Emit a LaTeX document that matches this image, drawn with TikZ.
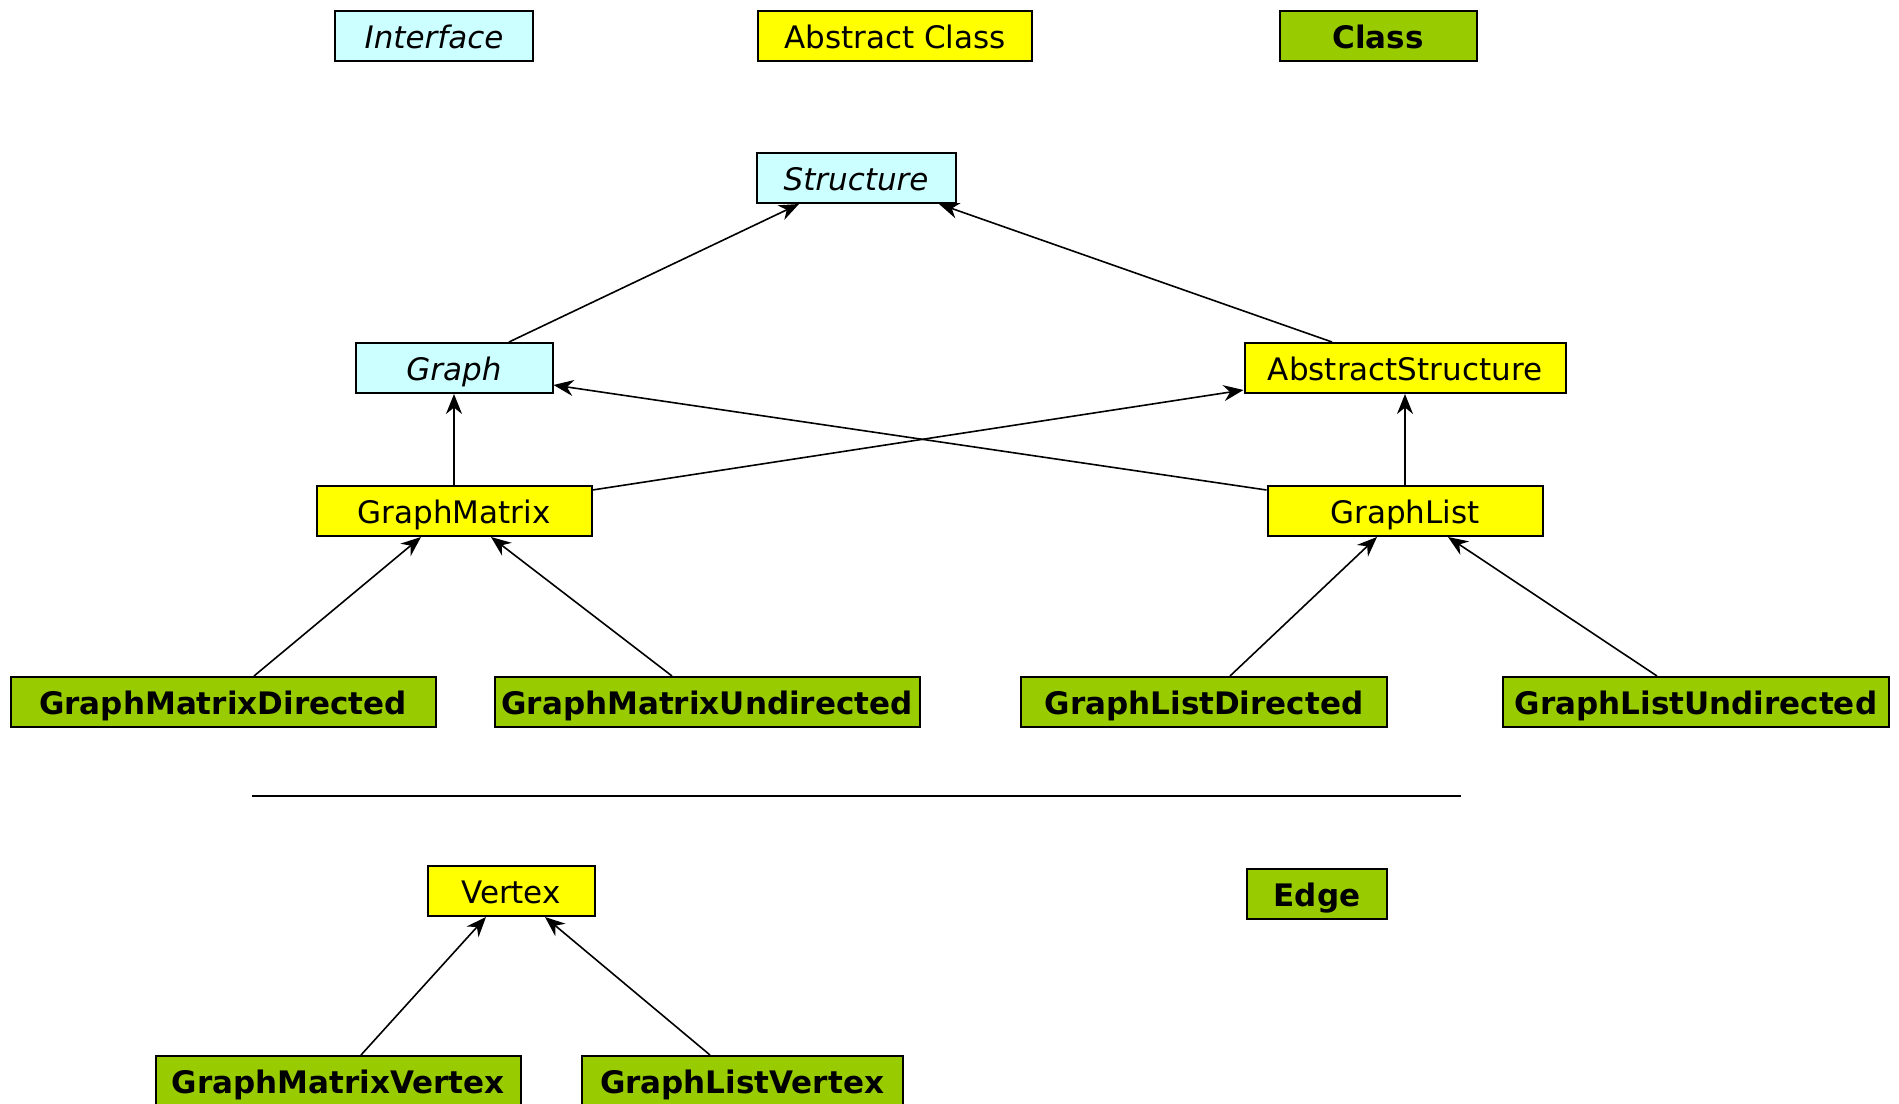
\documentclass[tikz,border=0pt]{standalone}
\usepackage{fontspec}
\setmainfont{DejaVu Sans}
\usepackage{tikz}
\usetikzlibrary{arrows.meta}
\usepackage{xcolor}
\definecolor{ifacecolor}{HTML}{CCFFFF}
\definecolor{abstractcolor}{HTML}{FFFF00}
\definecolor{classcolor}{HTML}{99CC00}

\begin{document}
\begin{tikzpicture}[
    x=0.5pt, y=-0.5pt,
    every node/.style={draw=black, line width=1pt, minimum height=25pt, inner sep=0pt,
                       text height=12.5pt, text depth=0.5pt, font=\fontsize{15.5}{18}\selectfont},
    iface/.style={fill=ifacecolor, font=\fontsize{15.5}{18}\selectfont\itshape, minimum width=#1},
    abstr/.style={fill=abstractcolor, minimum width=#1},
    concrete/.style={fill=classcolor, font=\fontsize{15.5}{18}\selectfont\bfseries, minimum width=#1},
    inherits/.style={line width=0.8pt, -{Stealth[length=10pt, width=8pt]}}
]
  \useasboundingbox (0,0) rectangle (1899,1103);

  % Draw the legend
  \node[iface=99pt] (keyiface) at (434,36) {Interface};
  \node[abstr=137pt] (keyabstr) at (895,36) {Abstract Class};
  \node[concrete=98.5pt] (keyclass) at (1378,36) {Class};

  % Draw the graph hierarchy
  \node[iface=99.5pt] (structure) at (856,178) {Structure};
  \node[iface=98.5pt] (graph) at (454,368) {Graph};
  \node[abstr=160.5pt] (abstract) at (1405,368) {AbstractStructure};
  \node[abstr=137.5pt] (gmatrix) at (454,511) {GraphMatrix};
  \node[abstr=137.5pt] (glist) at (1405,511) {GraphList};
  \node[concrete=212.5pt] (gmd) at (223,702) {GraphMatrixDirected};
  \node[concrete=212.5pt] (gmu) at (707,702) {GraphMatrixUndirected};
  \node[concrete=183pt] (gld) at (1204,702) {GraphListDirected};
  \node[concrete=193pt] (glu) at (1696,702) {GraphListUndirected};

  \draw[inherits] ([xshift=27.5pt]graph.north) -- ([xshift=-28.5pt]structure.south);
  \draw[inherits] ([xshift=-36.5pt]abstract.north) -- ([xshift=41.5pt]structure.south);
  \draw[inherits] (gmatrix.north) -- (graph.south);
  \draw[inherits] ([yshift=10.5pt]gmatrix.east) -- ([yshift=-11pt]abstract.west);
  \draw[inherits] ([yshift=10.5pt]glist.west) -- ([yshift=-8.5pt]graph.east);
  \draw[inherits] (glist.north) -- (abstract.south);
  \draw[inherits] ([xshift=15.5pt]gmd.north) -- ([xshift=-16.5pt]gmatrix.south);
  \draw[inherits] ([xshift=-17.5pt]gmu.north) -- ([xshift=18.5pt]gmatrix.south);
  \draw[inherits] ([xshift=13pt]gld.north) -- ([xshift=-14pt]glist.south);
  \draw[inherits] ([xshift=-19.5pt]glu.north) -- ([xshift=21.5pt]glist.south);

  % Separator
  \coordinate (sepL) at (252,796);
  \coordinate (sepR) at (1461,796);
  \draw[line width=0.6pt] (sepL) -- (sepR);

  % Draw the vertex and edge classes
  \node[abstr=83.5pt] (vertex) at (511,891) {Vertex};
  \node[concrete=70pt] (edge) at (1317,894) {Edge};
  \node[concrete=182.5pt] (gmv) at (338,1081) {GraphMatrixVertex};
  \node[concrete=160.5pt] (glv) at (742,1081) {GraphListVertex};

  \draw[inherits] ([xshift=11.5pt]gmv.north) -- ([xshift=-12.5pt]vertex.south);
  \draw[inherits] ([xshift=-16pt]glv.north) -- ([xshift=17pt]vertex.south);
\end{tikzpicture}
\end{document}
